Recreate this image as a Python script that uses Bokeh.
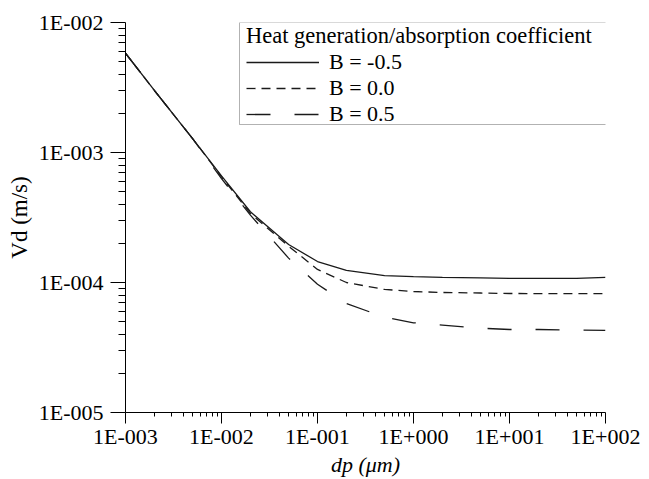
from bokeh.plotting import figure
from bokeh.models import (FixedTicker, Legend, LegendItem, BoxAnnotation, Range1d)
from bokeh.embed import file_html
from bokeh.resources import INLINE

# ---- data ----
dp = [0.001, 0.002, 0.005, 0.01, 0.02, 0.05, 0.1, 0.2, 0.5, 1, 2, 5, 10, 20, 50, 100]
vd_b_neg05 = [5.8e-3, 3.0e-3, 1.28e-3, 6.6e-4, 3.5e-4, 1.96e-4, 1.45e-4, 1.24e-4,
              1.13e-4, 1.11e-4, 1.095e-4, 1.086e-4, 1.075e-4, 1.074e-4, 1.074e-4, 1.095e-4]
vd_b_00 = [5.8e-3, 3.0e-3, 1.28e-3, 6.5e-4, 3.4e-4, 1.9e-4, 1.26e-4, 1.0e-4,
           8.84e-5, 8.53e-5, 8.38e-5, 8.3e-5, 8.23e-5, 8.22e-5, 8.2e-5, 8.2e-5]
vd_b_05 = [5.8e-3, 3.0e-3, 1.28e-3, 6.3e-4, 3.3e-4, 1.54e-4, 9.7e-5, 6.9e-5,
           5.4e-5, 4.9e-5, 4.7e-5, 4.45e-5, 4.35e-5, 4.35e-5, 4.3e-5, 4.28e-5]
series_labels = ["B = -0.5", "B = 0.0", "B = 0.5"]
legend_title = "Heat generation/absorption coefficient"
x_title = "dp (\u03bcm)"
y_title = "Vd (m/s)"

x_ticks = [1e-3, 1e-2, 1e-1, 1.0, 10.0, 100.0]
x_tick_labels = ["1E-003", "1E-002", "1E-001", "1E+000", "1E+001", "1E+002"]
y_ticks = [1e-5, 1e-4, 1e-3, 1e-2]
y_tick_labels = ["1E-005", "1E-004", "1E-003", "1E-002"]

FONT = "Liberation Serif"
INK = "#1a1a1a"

p = figure(width=649, height=479, x_axis_type="log", y_axis_type="log",
           x_range=Range1d(1e-3, 1e2), y_range=Range1d(1e-5, 1e-2),
           output_backend="svg", toolbar_location=None,
           min_border_left=125, min_border_right=44,
           min_border_top=22, min_border_bottom=67)
p.outline_line_color = None
p.grid.visible = False
p.background_fill_color = "white"
p.border_fill_color = "white"

minor_x = [m * 10.0 ** e for e in range(-3, 2) for m in range(2, 10)]
minor_y = [m * 10.0 ** e for e in range(-5, -2) for m in range(2, 10)]

xa = p.xaxis[0]
ya = p.yaxis[0]
xa.ticker = FixedTicker(ticks=x_ticks, minor_ticks=minor_x)
ya.ticker = FixedTicker(ticks=y_ticks, minor_ticks=minor_y)
xa.major_label_overrides = dict(zip(x_ticks, x_tick_labels))
ya.major_label_overrides = dict(zip(y_ticks, y_tick_labels))

for ax in (xa, ya):
    ax.axis_line_color = "black"
    ax.axis_line_width = 1
    ax.major_tick_line_color = "black"
    ax.minor_tick_line_color = "black"
    ax.major_tick_in = 0
    ax.minor_tick_in = 0
    ax.major_label_text_font = FONT
    ax.major_label_text_font_size = "22px"
    ax.major_label_text_color = "black"
    ax.axis_label_text_font = FONT
    ax.axis_label_text_color = "black"

xa.major_tick_out = 11
xa.minor_tick_out = 4
xa.major_label_standoff = 0
xa.axis_label = x_title
xa.axis_label_text_font_size = "22px"
xa.axis_label_text_font_style = "italic"
xa.axis_label_standoff = 0

ya.major_tick_out = 15
ya.minor_tick_out = 7
ya.major_label_standoff = 7
ya.axis_label = y_title
ya.axis_label_text_font_size = "23px"
ya.axis_label_text_font_style = "normal"
ya.axis_label_standoff = 4

r1 = p.line(dp, vd_b_neg05, line_color=INK, line_width=1.3)
r2 = p.line(dp, vd_b_00, line_color=INK, line_width=1.3, line_dash="9 6")
r3 = p.line(dp, vd_b_05, line_color=INK, line_width=1.3, line_dash="24 24")

# legend frame
box = BoxAnnotation(left=114, right=481, top=390, bottom=288,
                    left_units="screen", right_units="screen",
                    top_units="screen", bottom_units="screen",
                    fill_color="white", fill_alpha=1.0,
                    line_color="black", line_width=1)
p.add_layout(box)

legend = Legend(items=[LegendItem(label=series_labels[0], renderers=[r1]),
                       LegendItem(label=series_labels[1], renderers=[r2]),
                       LegendItem(label=series_labels[2], renderers=[r3])],
                title=legend_title, location=(121, 285), orientation="vertical",
                padding=0, margin=0, spacing=0, border_line_color=None,
                background_fill_alpha=0, glyph_width=73, glyph_height=20,
                label_standoff=10, title_standoff=0,
                label_text_font=FONT, label_text_font_size="22px",
                label_text_color="black",
                title_text_font=FONT, title_text_font_size="22.5px",
                title_text_font_style="normal", title_text_color="black")
p.add_layout(legend)

open("out.html", "w").write(file_html(p, INLINE))
